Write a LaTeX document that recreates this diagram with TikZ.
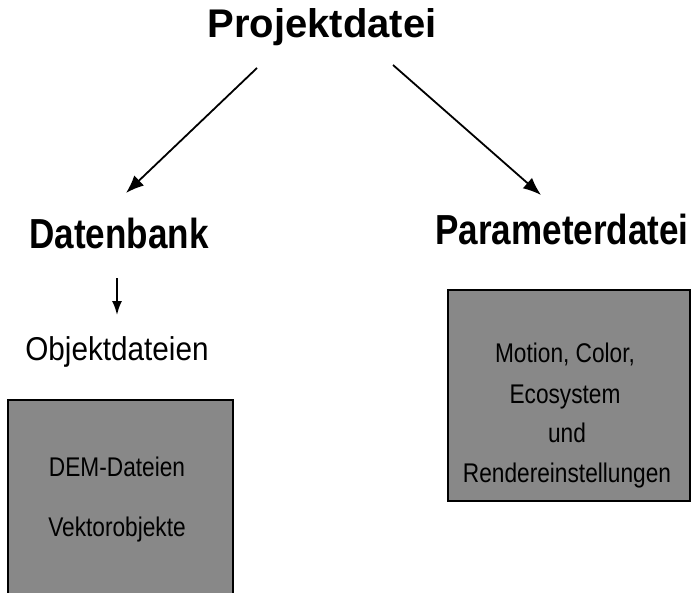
\documentclass[tikz,border=0pt]{standalone}
\usepackage{fontspec}
\setmainfont{Liberation Sans}
\newfontfamily\headfont[FakeStretch=0.835]{Liberation Sans}
\newfontfamily\subfont[FakeStretch=0.9]{Liberation Sans}
\newfontfamily\boxfont[FakeStretch=0.84]{Liberation Sans}
\usetikzlibrary{arrows.meta}
\definecolor{boxgray}{HTML}{888888}
\tikzset{
  title/.style={font=\bfseries\fontsize{40}{48}\selectfont, anchor=base, inner sep=0pt},
  head/.style={font=\headfont\bfseries\fontsize{42}{50}\selectfont, anchor=base, inner sep=0pt},
  sub/.style={font=\subfont\fontsize{33}{40}\selectfont, anchor=base, inner sep=0pt},
  boxtext/.style={font=\boxfont\fontsize{27}{32}\selectfont, anchor=base, inner sep=0pt},
  graybox/.style={draw=black, fill=boxgray, line width=2pt},
  conn/.style={line width=1.8pt, -{Latex[length=18pt,width=14pt]}},
  smallconn/.style={line width=1.8pt, -{Latex[length=14pt,width=10pt]}}
}
\begin{document}
\begin{tikzpicture}[x=1pt,y=-1pt]
\useasboundingbox (0,0) rectangle (692,593);
\clip (0,0) rectangle (692,593);
% boxes
\node[graybox, anchor=north west, minimum width=225pt, minimum height=220pt, inner sep=0pt] (leftbox) at (7,399) {};
\node[graybox, anchor=north west, minimum width=242pt, minimum height=211pt, inner sep=0pt] (rightbox) at (447,289) {};
% texts
\node[title] (proj) at (322,38) {Projektdatei};
\node[head] (db) at (119,248) {Datenbank};
\node[head] (param) at (562,245) {Parameterdatei};
\node[sub] (obj) at (117,360) {Objektdateien};
\node[boxtext] (dem) at (117,476) {DEM-Dateien};
\node[boxtext] (vek) at (117,536) {Vektorobjekte};
\node[boxtext] (mot) at (565,362) {Motion, Color,};
\node[boxtext] (eco) at (565,403) {Ecosystem};
\node[boxtext] (und) at (567,442) {und};
\node[boxtext] (ren) at (567,482) {Rendereinstellungen};
% connector end points
\coordinate (p1) at (257,68);
\coordinate (d1) at (126,193);
\coordinate (p2) at (393,65);
\coordinate (d2) at (541,195);
\coordinate (s1) at (117,278);
\coordinate (s2) at (117,315);
\draw[conn] (p1) -- (d1);
\draw[conn] (p2) -- (d2);
\draw[smallconn] (s1) -- (s2);
\end{tikzpicture}
\end{document}
